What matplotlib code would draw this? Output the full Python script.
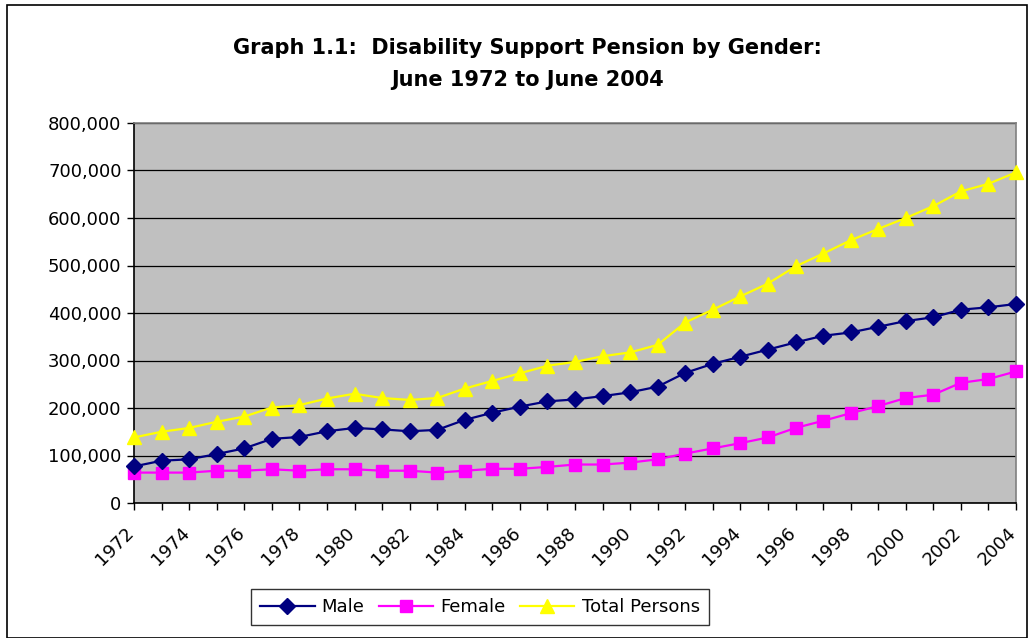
import numpy as np
import matplotlib
matplotlib.use("Agg")
import matplotlib.pyplot as plt
import matplotlib.transforms as mtransforms
from matplotlib.patches import Rectangle
from matplotlib.ticker import FuncFormatter

plt.rcParams['font.family'] = ['DejaVu Sans']

years = list(range(1972, 2005))

# values in thousands
male = [77, 89, 92, 103, 115, 135, 139, 151, 158, 155, 151,
        154, 175, 190, 203, 214, 218, 225, 233, 245, 274,
        293, 308, 323, 338, 352, 359, 371, 383, 391, 407, 412, 419]
female = [64, 64, 64, 68, 68, 71, 68, 71, 71, 68, 68,
          64, 68, 72, 72, 76, 81, 81, 85, 92, 104,
          115, 126, 138, 158, 173, 189, 204, 221, 228, 253, 261, 277]
total = [138, 150, 158, 171, 182, 201, 206, 220, 230, 221, 217,
         221, 241, 257, 273, 289, 297, 309, 317, 333, 380,
         407, 435, 462, 498, 525, 553, 577, 600, 625, 656, 672, 696]

male = np.array(male) * 1000
female = np.array(female) * 1000
total = np.array(total) * 1000

fig = plt.figure(figsize=(10.32, 6.38), dpi=100)
ax = fig.add_axes([134/1032, 1 - 503/638, (1016 - 134)/1032, (503 - 123)/638])
ax.set_facecolor('#C0C0C0')

ax.plot(years, male, color='#000080', lw=1.6, marker='D', ms=8, label='Male', clip_on=False, zorder=4)
ax.plot(years, female, color='#FF00FF', lw=1.6, marker='s', ms=8.5, label='Female', clip_on=False, zorder=3)
ax.plot(years, total, color='#FFFF00', lw=1.6, marker='^', ms=10, label='Total Persons', clip_on=False, zorder=3)

ax.set_xlim(1972, 2004)
ax.set_ylim(0, 800000)
ax.set_yticks(np.arange(0, 800001, 100000))
ax.yaxis.set_major_formatter(FuncFormatter(lambda v, p: f'{int(v):,}'))
ax.set_xticks(years)
ax.set_xticklabels([str(y) if y % 2 == 0 else '' for y in years], rotation=45, ha='right', rotation_mode='anchor')
ax.tick_params(axis='both', labelsize=13, direction='out', length=5, width=1, colors='black', pad=4)
ax.tick_params(axis='x', pad=10)

# nudge the slanted year labels left, like the original
shift = mtransforms.ScaledTranslation(-9/100, 0, fig.dpi_scale_trans)
for lbl in ax.get_xticklabels():
    lbl.set_transform(lbl.get_transform() + shift)

ax.grid(axis='y', color='black', lw=0.9)
ax.set_axisbelow(True)
for s in ['top', 'right']:
    ax.spines[s].set_color('#808080')
    ax.spines[s].set_linewidth(1.2)
for s in ['left', 'bottom']:
    ax.spines[s].set_color('black')
    ax.spines[s].set_linewidth(1.2)

fig.text(0.511, 1 - 48/638, 'Graph 1.1:  Disability Support Pension by Gender:', ha='center', va='center',
         fontsize=15, fontweight='bold')
fig.text(0.511, 1 - 80/638, 'June 1972 to June 2004', ha='center', va='center',
         fontsize=15, fontweight='bold')

leg = fig.legend(loc='center', bbox_to_anchor=(480/1032, 1 - 607/638), ncol=3, fontsize=13,
                 frameon=True, fancybox=False, edgecolor='black', handlelength=3.0,
                 columnspacing=0.8, handletextpad=0.4, borderpad=0.5)
leg.get_frame().set_linewidth(1.0)

fig.patches.append(Rectangle((7/1032, 0), (1027 - 7)/1032, 1 - 5/638, transform=fig.transFigure,
                             fill=False, edgecolor='black', lw=1.2))

fig.savefig('out.png', dpi=100)
